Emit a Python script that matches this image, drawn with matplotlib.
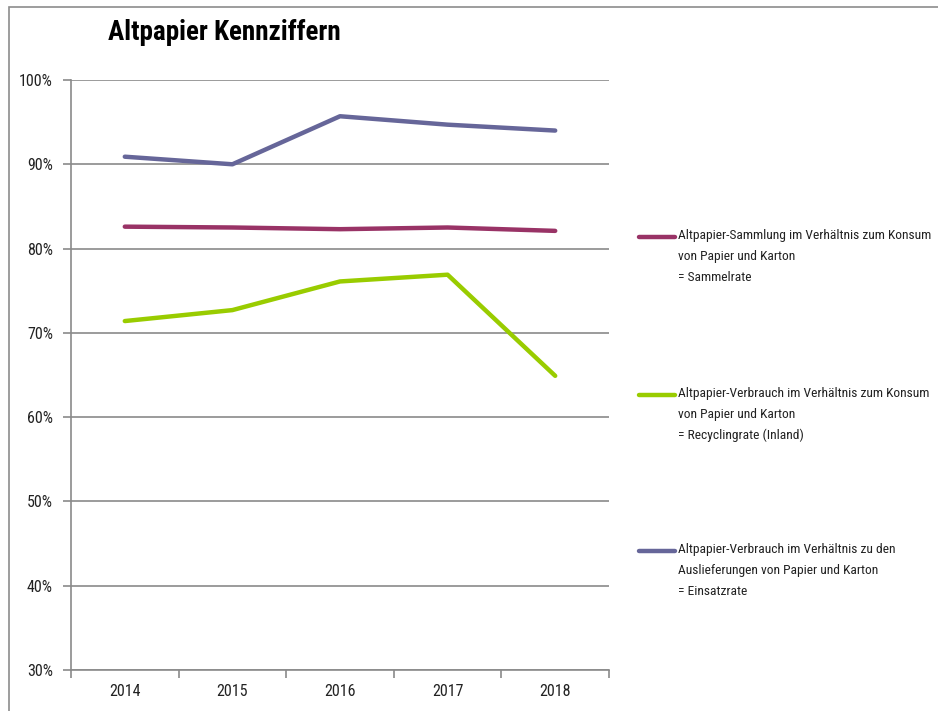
import matplotlib
matplotlib.use("Agg")
import matplotlib.pyplot as plt
from matplotlib.patches import Rectangle

# data (share in %)
years = ["2014", "2015", "2016", "2017", "2018"]
sammelrate = [82.6, 82.5, 82.3, 82.5, 82.1]
recyclingrate = [71.4, 72.7, 76.1, 76.9, 64.9]
einsatzrate = [90.9, 90.0, 95.7, 94.7, 94.0]
y_ticks = [30, 40, 50, 60, 70, 80, 90, 100]

labels = [
    "Altpapier-Sammlung im Verhältnis zum Konsum\nvon Papier und Karton\n= Sammelrate",
    "Altpapier-Verbrauch im Verhältnis zum Konsum\nvon Papier und Karton\n= Recyclingrate (Inland)",
    "Altpapier-Verbrauch im Verhältnis zu den\nAuslieferungen von Papier und Karton\n= Einsatzrate",
]
colors = ["#993366", "#99CC00", "#666699"]

FONT = ["Roboto Condensed", "Roboto", "DejaVu Sans"]
plt.rcParams["font.family"] = FONT

fig = plt.figure(figsize=(9.38, 7.11), dpi=100)
W, H = 938, 711

# outer chart frame (only left and top edges are visible)
fig.patches.append(Rectangle((9 / W, -0.1), 1.2, 1 - 7 / H + 0.1,
                             transform=fig.transFigure, fill=False,
                             edgecolor="#8c8c8c", lw=1.2))

ax = fig.add_axes([71 / W, 1 - 670 / H, (609 - 71) / W, (670 - 80) / H])
x = list(range(len(years)))
series = [sammelrate, recyclingrate, einsatzrate]
for vals, col in zip(series, colors):
    ax.plot(x, vals, color=col, lw=3.2, solid_capstyle="round",
            solid_joinstyle="round", zorder=3)

ax.set_xlim(-0.5, len(years) - 0.5)
ax.set_ylim(30, 100)
ax.set_yticks(y_ticks)
ax.set_yticklabels([f"{v}%" for v in y_ticks], fontsize=11.5, color="#222222")
ax.yaxis.grid(True, color="#8a8a8a", lw=1.2)
ax.set_axisbelow(True)

ax.set_xticks([i - 0.5 for i in range(len(years) + 1)])
ax.set_xticklabels([])
ax.set_xticks(x, minor=True)
ax.set_xticklabels(years, minor=True, fontsize=11.5, color="#222222")
ax.tick_params(axis="x", which="major", length=6, color="#8a8a8a", width=1.2)
ax.tick_params(axis="x", which="minor", length=0, pad=10)
ax.tick_params(axis="y", length=6, color="#8a8a8a", width=1.2, pad=7)

for side in ["top", "right"]:
    ax.spines[side].set_visible(False)
for side in ["left", "bottom"]:
    ax.spines[side].set_color("#8a8a8a")
    ax.spines[side].set_linewidth(1.2)

fig.text(108 / W, 1 - 33 / H, "Altpapier Kennziffern", fontsize=19.5,
         fontweight="bold", va="center", ha="left")

# legend drawn by hand to keep the wide spacing of the original
leg_y = [237, 395, 551]
for yy, lab, col in zip(leg_y, labels, colors):
    fig.lines.append(plt.Line2D([639 / W, 675 / W], [1 - yy / H] * 2,
                                transform=fig.transFigure, color=col, lw=3.2,
                                solid_capstyle="round"))
    fig.text(678 / W, 1 - (yy - 8) / H, lab, fontsize=9.7, va="top", ha="left",
             color="#222222", linespacing=1.78)

fig.savefig("out.png", dpi=100)
